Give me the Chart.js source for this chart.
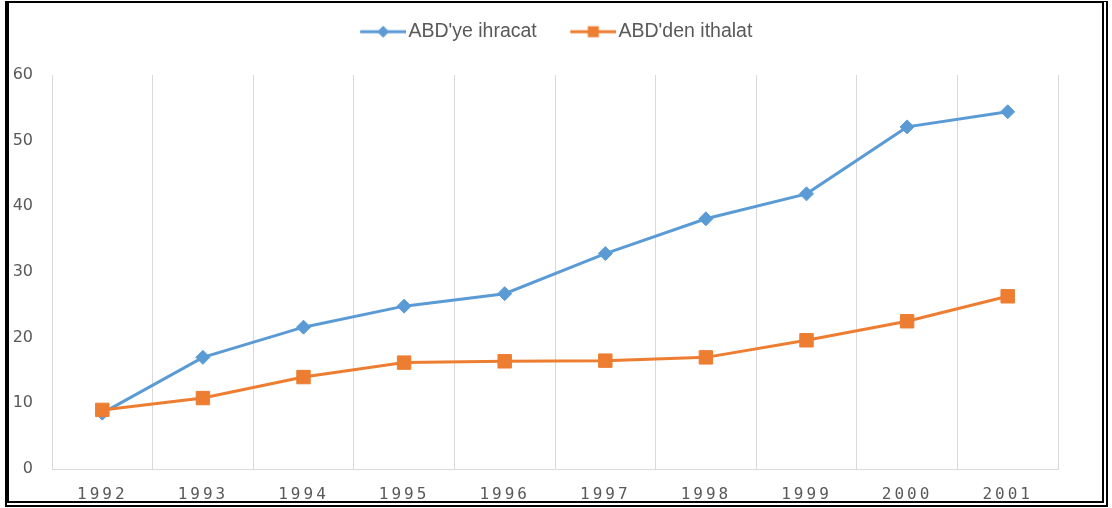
<!DOCTYPE html>
<html>
<head>
<meta charset="utf-8">
<script src="https://cdn.jsdelivr.net/npm/chart.js@4"></script>
<style>
  html, body { margin: 0; padding: 0; background: #fff; }
  #wrap { position: relative; width: 1112px; height: 508px; }
  #frame {
    position: absolute; left: 5px; top: 1px; width: 1103px; height: 506px;
    box-sizing: border-box; pointer-events: none;
    border-left: 4px solid #000; border-top: 2px solid #000;
    border-right: 6px double #000; border-bottom: 6px double #000;
  }
</style>
</head>
<body>
<div id="wrap">
  <canvas id="grafik" width="1112" height="508"></canvas>
  <div id="frame"></div>
</div>
<script>
// veriler (milyar $)
const years = ["1992", "1993", "1994", "1995", "1996", "1997", "1998", "1999", "2000", "2001"];
const ihracat = [8.5, 17.0, 21.6, 24.8, 26.7, 32.8, 38.1, 41.9, 52.1, 54.4];
const ithalat = [9.0, 10.8, 14.0, 16.2, 16.4, 16.5, 17.0, 19.6, 22.5, 26.3];

const BLUE = "#5B9BD5";
const ORANGE = "#ED7D31";

// lejant simgesi: çizgi + işaret (sağa kaydırılmış)
function legendIcon(color, style) {
  let c = document.createElement("canvas");
  c.width = 75;
  c.height = 14;
  let ctx = c.getContext("2d");
  ctx.strokeStyle = color;
  ctx.fillStyle = color;
  ctx.lineWidth = 3;
  ctx.beginPath();
  ctx.moveTo(29, 7);
  ctx.lineTo(75, 7);
  ctx.stroke();
  if (style == "diamond") {
    ctx.beginPath();
    ctx.moveTo(52, 1);
    ctx.lineTo(58, 7);
    ctx.lineTo(52, 13);
    ctx.lineTo(46, 7);
    ctx.closePath();
    ctx.fill();
  } else {
    ctx.fillRect(46.5, 1.5, 11, 11);
  }
  return c;
}

const icons = [legendIcon(BLUE, "diamond"), legendIcon(ORANGE, "square")];

const legendBox = {
  id: "legendBox",
  beforeInit(chart) {
    const fit = chart.legend.fit;
    chart.legend.fit = function () {
      fit.bind(chart.legend)();
      this.height = 65;
    };
  },
  afterLayout(chart) {
    chart.legend.left += 33;
  },
};

// x etiketleri arasında harf boşluğu
const spacedTicks = {
  id: "spacedTicks",
  beforeDraw(chart) {
    const sc = chart.scales.x;
    if (sc._spaced) return;
    const orig = sc.drawLabels;
    sc.drawLabels = function (area) {
      const c = this.ctx;
      c.save();
      c.letterSpacing = "3px";
      orig.call(this, area);
      c.restore();
    };
    sc._spaced = true;
  },
};

new Chart(document.getElementById("grafik"), {
  type: "line",
  data: {
    labels: years,
    datasets: [
      {
        label: "ABD'ye ihracat",
        data: ihracat,
        borderColor: BLUE,
        backgroundColor: BLUE,
        borderWidth: 3,
        pointStyle: "rectRot",
        pointRadius: 7,
        pointBorderWidth: 1,
        pointBorderColor: BLUE,
        pointBackgroundColor: BLUE,
        tension: 0,
        order: 1,
      },
      {
        label: "ABD'den ithalat",
        data: ithalat,
        borderColor: ORANGE,
        backgroundColor: ORANGE,
        borderWidth: 3,
        pointStyle: "rect",
        pointRadius: 9.5,
        pointBorderWidth: 1,
        pointBorderColor: ORANGE,
        pointBackgroundColor: ORANGE,
        tension: 0,
        order: 0,
      },
    ],
  },
  options: {
    responsive: false,
    animation: false,
    layout: { padding: { top: 10, left: 0, right: 54, bottom: 0 } },
    plugins: {
      tooltip: { enabled: false },
      legend: {
        position: "top",
        labels: {
          usePointStyle: true,
          pointStyleWidth: 60,
          padding: 12,
          color: "#595959",
          font: { family: "'Liberation Sans', Arial, sans-serif", size: 19.5 },
          generateLabels(chart) {
            return chart.data.datasets.map((ds, i) => ({
              text: ds.label,
              pointStyle: icons[i],
              fillStyle: ds.borderColor,
              strokeStyle: ds.borderColor,
              lineWidth: 0,
              fontColor: "#595959",
              hidden: false,
              datasetIndex: i,
            }));
          },
        },
      },
    },
    scales: {
      x: {
        offset: true,
        afterFit(scale) {
          scale.height = 39;
        },
        grid: { offset: true, color: "#d9d9d9", lineWidth: 1, drawTicks: false },
        border: { color: "#d9d9d9" },
        ticks: {
          padding: 16,
          color: "#595959",
          font: { family: "'DejaVu Sans Mono', monospace", size: 16 },
          maxRotation: 0,
        },
      },
      y: {
        min: 0,
        max: 60,
        afterFit(scale) {
          scale.width = 52;
        },
        grid: { display: false, drawTicks: false },
        border: { display: false },
        ticks: {
          stepSize: 10,
          padding: 19,
          color: "#595959",
          font: { family: "'DejaVu Sans', sans-serif", size: 16 },
        },
      },
    },
  },
  plugins: [legendBox, spacedTicks],
});
</script>
</body>
</html>
